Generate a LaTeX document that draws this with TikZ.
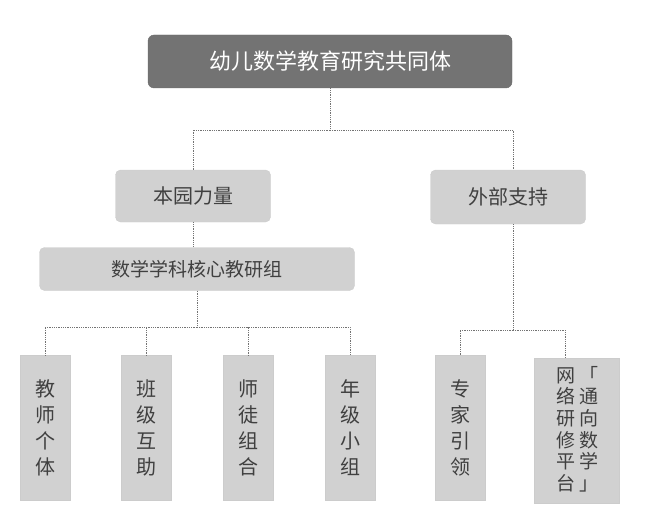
\documentclass[tikz,border=0pt]{standalone}
\usepackage{fontspec}
\setmainfont{Noto Sans CJK SC}
\begin{document}
\begin{tikzpicture}[x=1pt,y=-1pt,
 box/.style={rounded corners=5pt,fill=black!18,draw=black!20,inner sep=0pt,text=black!75},
 top/.style={rounded corners=6pt,fill=black!55,draw=black!58,inner sep=0pt,text=white},
 ln/.style={draw=black!55,densely dotted,line width=0.8pt}]
\useasboundingbox (0,0) rectangle (660,516);
\node[top,minimum width=364,minimum height=53,font=\fontsize{22}{24}\selectfont] (t) at (330,61.5) {幼儿数学教育研究共同体};
\node[box,minimum width=155,minimum height=52,font=\fontsize{20}{22}\selectfont] (a) at (193,196) {本园力量};
\node[box,minimum width=155,minimum height=54,font=\fontsize{20}{22}\selectfont] (b) at (508,197) {外部支持};
\node[box,minimum width=315,minimum height=43,font=\fontsize{19}{21}\selectfont] (c) at (197,269) {数学学科核心教研组};
\foreach \n/\x/\t in {d1/45/{教\\师\\个\\体},d2/146/{班\\级\\互\\助},d3/248/{师\\徒\\组\\合},d4/350/{年\\级\\小\\组},e1/460/{专\\家\\引\\领}}
 \node[box,rounded corners=0pt,minimum width=50,minimum height=145,align=center,font=\fontsize{20}{26}\selectfont] (\n) at (\x,428) {\t};
\node[box,rounded corners=0pt,minimum width=85,minimum height=145,font=\fontsize{19}{21}\selectfont] (e2) at (577,431) {\renewcommand\arraystretch{0.88}\begin{tabular}{@{}c@{\hspace{4pt}}c@{}}网&「\\络&通\\研&向\\修&数\\平&学\\台&」\end{tabular}};
\draw[ln] (t.south) -- (330,130) coordinate (h1);
\draw[ln] (h1) -| (a.north);
\draw[ln] (h1) -| (513,170) coordinate (bt);
\draw[ln] (a.south) -- (c.north -| a.south);
\draw[ln] (c.south -| 197,0) -- (197,327) coordinate (h2);
\foreach \n in {d1,d2,d3,d4} \draw[ln] (h2) -| (\n.north);
\draw[ln] (b.south -| 513,0) -- (513,330) coordinate (h3);
\draw[ln] (h3) -| (e1.north);
\draw[ln] (h3) -| (565,358.5);
\end{tikzpicture}
\end{document}
